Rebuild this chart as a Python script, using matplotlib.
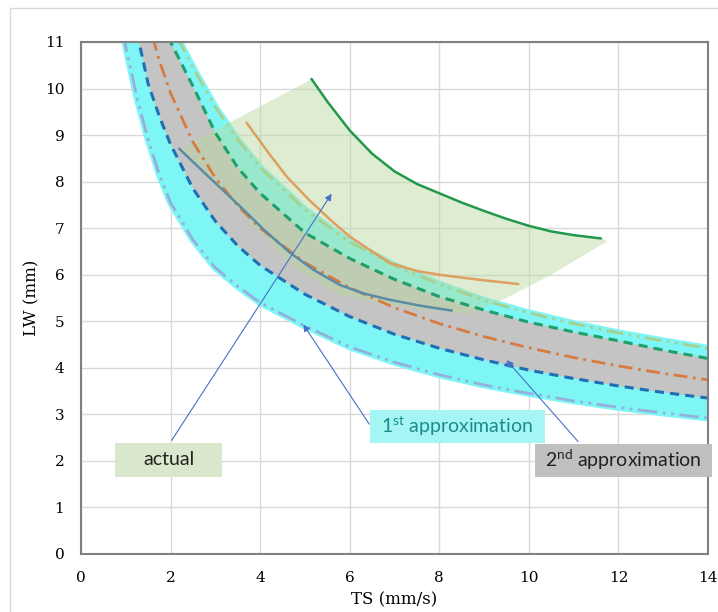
import matplotlib
matplotlib.use("Agg")
import matplotlib.pyplot as plt
from matplotlib.patches import Rectangle, Polygon

# 1st approximation band (cyan)
app1_low_x = [0.95, 1.0, 1.25, 1.5, 1.75, 2.0, 2.5, 3.0, 3.5, 4.0, 5.0, 6.0, 7.0, 8.0, 9.0, 10.0, 11.0, 12.0, 13.0, 14.0]
app1_low_y = [11.2, 10.9, 9.8, 8.9, 8.15, 7.55, 6.75, 6.15, 5.75, 5.4, 4.9, 4.45, 4.12, 3.85, 3.63, 3.45, 3.29, 3.15, 3.03, 2.92]
app1_high_x = [2.15, 2.5, 3.0, 3.5, 4.0, 5.0, 6.0, 7.0, 8.0, 9.0, 10.0, 11.0, 12.0, 13.0, 14.0]
app1_high_y = [11.1, 10.45, 9.6, 8.9, 8.3, 7.4, 6.7, 6.2, 5.8, 5.45, 5.18, 4.95, 4.75, 4.58, 4.42]

# 2nd approximation band (gray)
app2_low_x = [1.25, 1.5, 1.75, 2.0, 2.5, 3.0, 3.5, 4.0, 5.0, 6.0, 7.0, 8.0, 9.0, 10.0, 11.0, 12.0, 13.0, 14.0]
app2_low_y = [11.2, 10.1, 9.4, 8.8, 7.85, 7.15, 6.62, 6.2, 5.58, 5.1, 4.72, 4.42, 4.17, 3.95, 3.77, 3.61, 3.47, 3.35]
app2_mid_x = [1.6, 1.75, 2.0, 2.5, 3.0, 3.5, 4.0, 5.0, 6.0, 7.0, 8.0, 9.0, 10.0, 11.0, 12.0, 13.0, 14.0]
app2_mid_y = [11.1, 10.6, 9.9, 8.85, 8.08, 7.48, 7.0, 6.26, 5.72, 5.29, 4.95, 4.67, 4.43, 4.22, 4.04, 3.88, 3.74]
app2_high_x = [1.95, 2.0, 2.5, 3.0, 3.5, 4.0, 5.0, 6.0, 7.0, 8.0, 9.0, 10.0, 11.0, 12.0, 13.0, 14.0]
app2_high_y = [11.1, 11.0, 10.05, 9.05, 8.3, 7.75, 6.9, 6.35, 5.9, 5.53, 5.24, 4.98, 4.77, 4.58, 4.38, 4.2]

# actual measurements
act_high_x = [5.15, 5.5, 6.0, 6.5, 7.0, 7.5, 8.0, 8.5, 9.0, 9.5, 10.0, 10.5, 11.0, 11.6]
act_high_y = [10.2, 9.72, 9.1, 8.6, 8.22, 7.95, 7.75, 7.55, 7.37, 7.2, 7.05, 6.93, 6.85, 6.78]
act_mid_x = [3.7, 4.2, 4.6, 5.1, 5.6, 6.0, 6.5, 6.9, 7.5, 8.0, 8.9, 9.76]
act_mid_y = [9.26, 8.6, 8.1, 7.6, 7.15, 6.82, 6.5, 6.25, 6.08, 6.0, 5.89, 5.8]
act_low_x = [2.2, 2.8, 3.55, 4.1, 4.67, 5.2, 5.78, 6.3, 6.9, 7.6, 8.27]
act_low_y = [8.7, 8.15, 7.47, 6.95, 6.47, 6.1, 5.78, 5.6, 5.46, 5.33, 5.23]

# outline of the shaded "actual" region
act_reg_x = [2.2, 5.15, 5.5, 6.0, 6.5, 7.0, 7.5, 8.0, 9.0, 10.0, 11.0, 11.6, 11.75,
             10.5, 9.5, 9.0, 8.7, 7.5, 6.5, 5.8, 4.8, 4.0, 3.0]
act_reg_y = [8.7, 10.2, 9.72, 9.1, 8.6, 8.22, 7.95, 7.75, 7.37, 7.05, 6.85, 6.8, 6.72,
             6.0, 5.5, 5.3, 5.15, 5.28, 5.42, 5.55, 6.12, 6.9, 7.9]

x_ticks = [0, 2, 4, 6, 8, 10, 12, 14]
y_ticks = list(range(0, 12))

fig = plt.figure(figsize=(7.18, 6.12), dpi=100)
ax = fig.add_axes([0.1128, 0.0948, 0.8733, 0.8366])


def band(xl, yl, xh, yh, **kw):
    pts = list(zip(xl, yl)) + list(zip(xh, yh))[::-1]
    ax.add_patch(Polygon(pts, closed=True, **kw))


band(app1_low_x, app1_low_y, app1_high_x, app1_high_y, fc='#7ff6f6', ec='#7ff6f6',
     lw=5, joinstyle='round', zorder=1)
band(app2_low_x, app2_low_y, app2_high_x, app2_high_y, fc='#c4c4c4', ec='none', zorder=2)
ax.add_patch(Polygon(list(zip(act_reg_x, act_reg_y)), closed=True, fc='#b7d99c', alpha=0.45,
                     ec='none', zorder=3))

ax.plot(app1_low_x, app1_low_y, color='#94b0da', lw=2, dashes=(7, 2, 1, 2, 1, 2), zorder=4)
ax.plot(app1_high_x, app1_high_y, color='#a8d08c', lw=2, dashes=(6, 2, 1, 2, 1, 2), zorder=4)
ax.plot(app2_low_x, app2_low_y, color='#1f6fb5', lw=2.2, dashes=(3, 2), zorder=4)
ax.plot(app2_mid_x, app2_mid_y, color='#d97a3f', lw=2, dashes=(5, 2, 1, 2), zorder=4)
ax.plot(app2_high_x, app2_high_y, color='#1fa06a', lw=2.2, dashes=(3, 2), zorder=4)

ax.plot(act_high_x, act_high_y, color='#22994a', lw=1.8, zorder=5)
ax.plot(act_mid_x, act_mid_y, color='#df9f60', lw=1.8, zorder=5)
ax.plot(act_low_x, act_low_y, color='#5a8ca5', lw=1.8, zorder=5)

ax.set_xlim(0, 14)
ax.set_ylim(0, 11)
ax.set_xticks(x_ticks)
ax.set_yticks(y_ticks)
ax.grid(True, color='#d9d9d9', lw=1)
ax.set_axisbelow(True)
for s in ax.spines.values():
    s.set_color('#808080')
    s.set_linewidth(1.5)
    s.set_zorder(8)
ax.tick_params(length=0, labelsize=11, pad=12)
for lab in ax.get_xticklabels() + ax.get_yticklabels():
    lab.set_family('DejaVu Serif')
ax.set_xlabel('TS (mm/s)', family='DejaVu Serif', fontsize=12, labelpad=5)
ax.set_ylabel('LW (mm)', family='DejaVu Serif', fontsize=12, labelpad=3)

# label boxes
arrow = dict(arrowstyle='-|>', color='#4472c4', lw=0.8, mutation_scale=10)
ax.add_patch(Rectangle((0.76, 1.65), 2.39, 0.74, fc='#d9e8cd', ec='none', zorder=6))
ax.text(1.955, 2.02, 'actual', family='Lato', fontsize=14, color='#222222',
        ha='center', va='center', zorder=7)
ax.annotate('', xy=(5.63, 7.79), xytext=(1.99, 2.39), arrowprops=arrow, zorder=6)

ax.add_patch(Rectangle((6.45, 2.39), 3.91, 0.71, fc='#a6f5f5', ec='none', zorder=6))
ax.text(8.4, 2.74, '1$^{\\mathregular{st}}$ approximation', family='Lato', fontsize=14,
        color='#1b8c8c', ha='center', va='center', zorder=7)
ax.annotate('', xy=(4.93, 4.98), xytext=(6.47, 2.74), arrowprops=arrow, zorder=6)

ax.add_patch(Rectangle((10.13, 1.66), 3.97, 0.71, fc='#c0c0c0', ec='none', zorder=9,
                       clip_on=False))
ax.text(12.1, 2.02, '2$^{\\mathregular{nd}}$ approximation', family='Lato', fontsize=14,
        color='#222222', ha='center', va='center', zorder=10)
ax.annotate('', xy=(9.46, 4.21), xytext=(11.14, 2.37), arrowprops=arrow, zorder=6)

fig.add_artist(Rectangle((0.014, -0.02), 1.0, 1.007, transform=fig.transFigure,
                         fill=False, ec='#d9d9d9', lw=1))

fig.savefig('out.png', dpi=100)
